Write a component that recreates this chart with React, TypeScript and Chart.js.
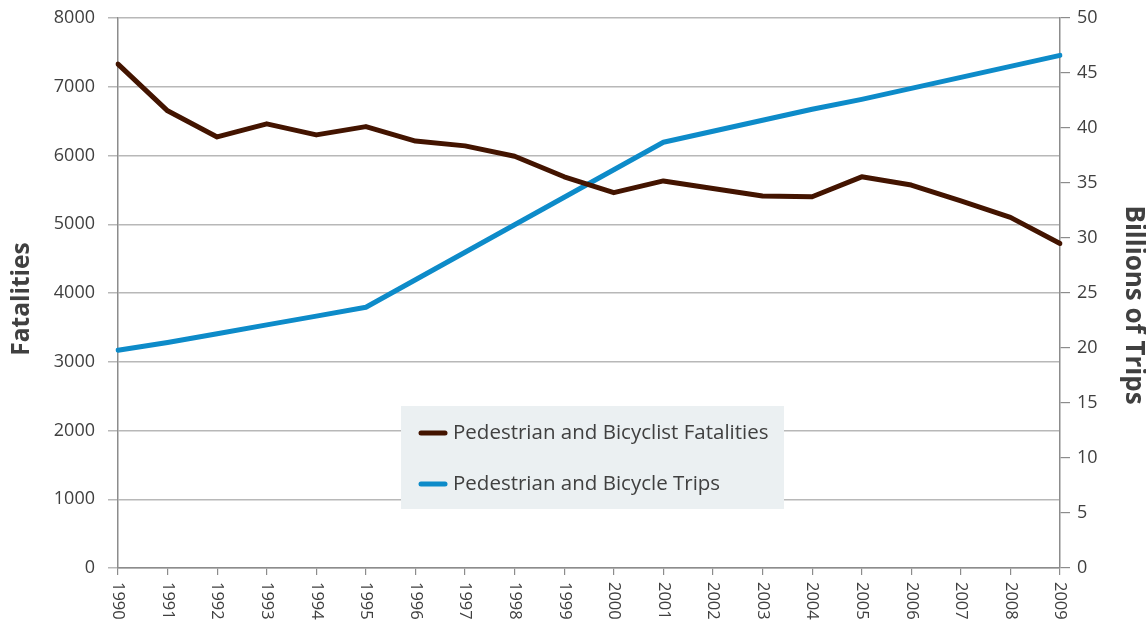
import React, { useEffect, useRef } from "react";
import { Chart, registerables } from "chart.js";

Chart.register(...registerables);

const years = ["1990","1991","1992","1993","1994","1995","1996","1997","1998","1999","2000","2001","2002","2003","2004","2005","2006","2007","2008","2009"];
const fatalities = [7330, 6650, 6270, 6460, 6300, 6420, 6210, 6140, 5990, 5690, 5460, 5630, 5520, 5410, 5400, 5690, 5570, 5340, 5100, 4720];
const trips = [19.8, 20.5, 21.3, 22.1, 22.9, 23.7, 26.2, 28.7, 31.2, 33.7, 36.2, 38.7, 39.7, 40.7, 41.7, 42.6, 43.6, 44.6, 45.6, 46.6];
const seriesLabels = ["Pedestrian and Bicyclist Fatalities", "Pedestrian and Bicycle Trips"];
const leftTitle = "Fatalities";
const rightTitle = "Billions of Trips";

const FONT = "'Open Sans', 'Noto Sans', sans-serif";
const TEXT = "#404040";
const BROWN = "#431400";
const BLUE = "#0d8bc9";

const overlay = {
  id: "overlay",
  afterDraw(chart: any) {
    const ctx = chart.ctx;
    const xs = chart.scales.x;
    const ca = chart.chartArea;
    ctx.save();
    // rotated x labels (clockwise)
    ctx.fillStyle = TEXT;
    ctx.font = `16.5px ${FONT}`;
    ctx.textAlign = "left";
    ctx.textBaseline = "middle";
    years.forEach((y, i) => {
      const px = xs.getPixelForTick(i);
      ctx.save();
      ctx.translate(px, ca.bottom + 14);
      ctx.rotate(Math.PI / 2);
      ctx.fillText(y, 0, 0);
      ctx.restore();
    });
    // axis titles
    ctx.textAlign = "center";
    ctx.textBaseline = "middle";
    ctx.font = `bold 24.5px ${FONT}`;
    ctx.save();
    ctx.translate(22, 299);
    ctx.rotate(-Math.PI / 2);
    ctx.fillText(leftTitle, 0, 0);
    ctx.restore();
    ctx.font = `bold 26px ${FONT}`;
    ctx.save();
    ctx.translate(1133, 305);
    ctx.rotate(Math.PI / 2);
    ctx.fillText(rightTitle, 0, 0);
    ctx.restore();
    // legend
    const lx = 401, ly = 406, lw = 383, lh = 103;
    ctx.fillStyle = "#ebf0f2";
    ctx.fillRect(lx, ly, lw, lh);
    const colors = [BROWN, BLUE];
    ctx.font = `20.5px ${FONT}`;
    ctx.textAlign = "left";
    ctx.textBaseline = "middle";
    seriesLabels.forEach((lab, i) => {
      const yy = ly + 27 + i * 51;
      ctx.strokeStyle = colors[i];
      ctx.lineWidth = 5;
      ctx.lineCap = "round";
      ctx.beginPath();
      ctx.moveTo(421, yy);
      ctx.lineTo(445, yy);
      ctx.stroke();
      ctx.fillStyle = TEXT;
      ctx.fillText(lab, 453, yy);
    });
    ctx.restore();
  },
};

export default function App() {
  const ref = useRef<HTMLCanvasElement>(null);
  useEffect(() => {
    document.body.style.margin = "0";
    const fitV = (w: number) => (s: any) => { s.width = w; s.paddingTop = 0; s.paddingBottom = 0; };
    const chart = new Chart(ref.current!, {
      type: "line",
      data: {
        labels: years,
        datasets: [
          {
            label: seriesLabels[0],
            data: fatalities,
            yAxisID: "y",
            borderColor: BROWN,
            borderWidth: 5,
            pointRadius: 0,
            borderCapStyle: "round",
            borderJoinStyle: "round",
            tension: 0,
          },
          {
            label: seriesLabels[1],
            data: trips,
            yAxisID: "y1",
            borderColor: BLUE,
            borderWidth: 5,
            pointRadius: 0,
            borderCapStyle: "round",
            borderJoinStyle: "round",
            tension: 0,
          },
        ],
      },
      options: {
        animation: false,
        responsive: false,
        layout: { padding: { top: 18, left: 0, right: 0, bottom: 0 } },
        plugins: { legend: { display: false }, tooltip: { enabled: false } },
        scales: {
          x: {
            type: "category",
            offset: false,
            grid: { display: true, drawOnChartArea: false, drawTicks: true, tickLength: 7, color: "#8c8c8c", lineWidth: 1.2 },
            border: { display: true, color: "#8c8c8c", width: 1.5 },
            ticks: { color: "rgba(0,0,0,0)", maxRotation: 90, minRotation: 90, autoSkip: false, font: { size: 16, family: FONT } },
            afterFit: (s: any) => { s.height = 625 - 568; s.paddingLeft = 0; s.paddingRight = 0; },
          },
          y: {
            position: "left",
            min: 0,
            max: 8000,
            ticks: { stepSize: 1000, color: TEXT, font: { size: 18, family: FONT }, padding: 13, callback: (v: any) => String(v) },
            grid: { color: "#b8b8b8", lineWidth: 1.5, tickLength: 10 },
            border: { display: true, color: "#8c8c8c", width: 1.5 },
            afterFit: fitV(118),
          },
          y1: {
            position: "right",
            min: 0,
            max: 50,
            ticks: { stepSize: 5, color: TEXT, font: { size: 18, family: FONT }, padding: 7, callback: (v: any) => String(v) },
            grid: { drawOnChartArea: false, color: "#8c8c8c", lineWidth: 1.2, tickLength: 10 },
            border: { display: true, color: "#8c8c8c", width: 1.5 },
            afterFit: fitV(1146 - 1060),
          },
        },
      },
      plugins: [overlay],
    });
    return () => chart.destroy();
  }, []);
  return <canvas ref={ref} width={1146} height={625} style={{ display: "block" }} />;
}
